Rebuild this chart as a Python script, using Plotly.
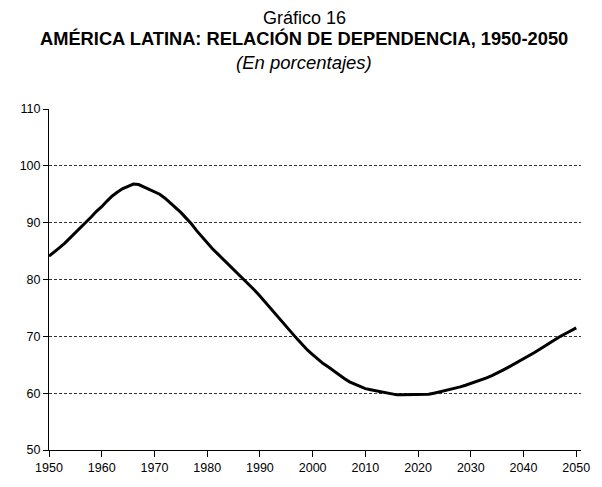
import plotly.graph_objects as go

years = list(range(1950, 2051))
dependency = [
    84.1, 84.8, 85.6, 86.4, 87.3, 88.2, 89.1, 90.0, 91.0, 92.0,
    92.8, 93.8, 94.7, 95.4, 96.0, 96.4, 96.8, 96.7, 96.3, 95.9,
    95.5, 95.0, 94.3, 93.5, 92.7, 91.8, 90.8, 89.8, 88.6, 87.5,
    86.4, 85.4, 84.5, 83.6, 82.6, 81.7, 80.8, 80.0, 79.1, 78.1,
    77.1, 76.0, 75.0, 73.8, 72.7, 71.6, 70.6, 69.6, 68.6, 67.6,
    66.8, 66.0, 65.2, 64.6, 63.9, 63.2, 62.6, 62.0, 61.6, 61.2,
    60.8, 60.6, 60.4, 60.2, 60.0, 59.8, 59.7, 59.7, 59.7, 59.7,
    59.7, 59.7, 59.8, 60.0, 60.2, 60.4, 60.6, 60.9, 61.1, 61.4,
    61.7, 62.0, 62.3, 62.7, 63.1, 63.5, 64.0, 64.5, 65.0, 65.5,
    66.1, 66.6, 67.1, 67.7, 68.3, 68.9, 69.5, 70.0, 70.5, 71.0,
    71.5,
]
x_ticks = list(range(1950, 2051, 10))
y_ticks = list(range(50, 111, 10))

title_top = "Gráfico 16"
title_main = "AMÉRICA LATINA: RELACIÓN DE DEPENDENCIA, 1950-2050"
title_sub = "(En porcentajes)"

FONT = "Liberation Sans, Arial, sans-serif"

fig = go.Figure()
fig.add_trace(go.Scatter(
    x=years, y=dependency, mode="lines",
    line=dict(color="black", width=3),
    hoverinfo="x+y", showlegend=False,
))

fig.update_layout(
    width=594, height=479,
    margin=dict(l=35, r=14, t=101, b=29),
    paper_bgcolor="white", plot_bgcolor="white",
    font=dict(family=FONT, color="black", size=12),
    showlegend=False,
    xaxis=dict(
        range=[1950, 2050.9], tickvals=x_ticks, ticktext=[str(v) for v in x_ticks],
        showgrid=False, zeroline=False,
        showline=True, linecolor="black", linewidth=1,
        ticks="outside", ticklen=6, tickcolor="black", tickwidth=1,
        tickfont=dict(size=12.5, family=FONT, color="black"),
    ),
    yaxis=dict(
        range=[50, 110], tickvals=y_ticks, ticktext=[str(v) for v in y_ticks],
        showgrid=True, gridcolor="#333333", griddash="3px,2px", gridwidth=1,
        zeroline=False,
        showline=True, linecolor="black", linewidth=1,
        ticks="outside", ticklen=5, tickcolor="black", tickwidth=1,
        tickfont=dict(size=12.5, family=FONT, color="black"),
    ),
    annotations=[
        dict(text=title_top, xref="paper", yref="paper", x=0.4798, y=1.2665,
             xanchor="center", yanchor="middle", showarrow=False,
             font=dict(size=18, family=FONT, color="black")),
        dict(text="<b>" + title_main + "</b>", xref="paper", yref="paper", x=0.4798, y=1.2077,
             xanchor="center", yanchor="middle", showarrow=False,
             font=dict(size=18.3, family=FONT, color="black")),
        dict(text="<i>" + title_sub + "</i>", xref="paper", yref="paper", x=0.4798, y=1.1375,
             xanchor="center", yanchor="middle", showarrow=False,
             font=dict(size=18.5, family=FONT, color="black")),
    ],
)

fig.write_html("out.html")
